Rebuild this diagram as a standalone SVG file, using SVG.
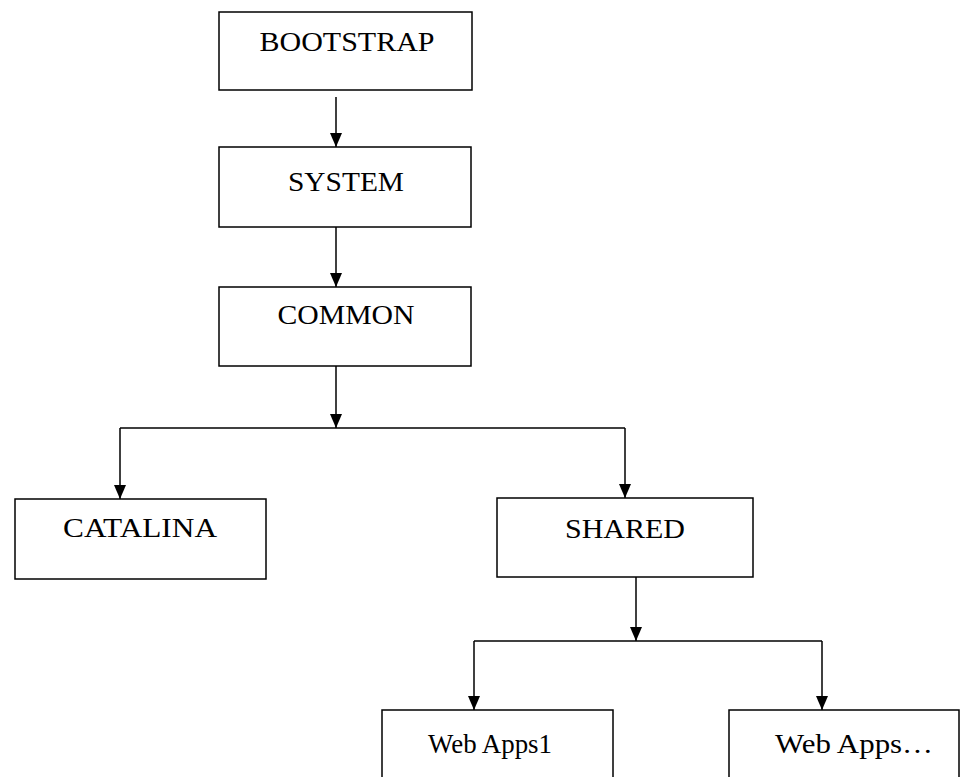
<svg xmlns="http://www.w3.org/2000/svg" width="960" height="777" viewBox="0 0 960 777">
<defs>
<marker id="arr" markerUnits="userSpaceOnUse" markerWidth="14" markerHeight="12" viewBox="0 0 14 12" refX="14" refY="6" orient="auto">
<path d="M0,0 L14,6 L0,12 Z" fill="#000"/>
</marker>
<style>
.box{fill:#fff;stroke:#000;stroke-width:1.5}
.lbl{font-family:"Liberation Serif","Times New Roman",serif;font-size:28px;fill:#000;text-anchor:middle}
.ln{fill:none;stroke:#000;stroke-width:1.5}
.ar{fill:none;stroke:#000;stroke-width:1.5}
</style>
</defs>
<rect width="960" height="777" fill="#fff"/>
<g id="connectors">
<path class="ar" d="M336,97 V147" marker-end="url(#arr)"/>
<path class="ar" d="M336,220 V287" marker-end="url(#arr)"/>
<path class="ar" d="M336,366 V428" marker-end="url(#arr)"/>
<path class="ln" d="M120,428 H625"/>
<path class="ar" d="M120,428 V499" marker-end="url(#arr)"/>
<path class="ar" d="M625,428 V498" marker-end="url(#arr)"/>
<path class="ar" d="M636,577 V641" marker-end="url(#arr)"/>
<path class="ln" d="M474,641 H822"/>
<path class="ar" d="M474,641 V710" marker-end="url(#arr)"/>
<path class="ar" d="M822,641 V710" marker-end="url(#arr)"/>
</g>
<g id="bootstrap">
<rect class="box" x="219" y="12" width="253" height="78"/>
<text class="lbl" x="347" y="51" textLength="175" lengthAdjust="spacingAndGlyphs">BOOTSTRAP</text>
</g>
<g id="system">
<rect class="box" x="219" y="147" width="252" height="80"/>
<text class="lbl" x="346" y="191" textLength="116" lengthAdjust="spacingAndGlyphs">SYSTEM</text>
</g>
<g id="common">
<rect class="box" x="219" y="287" width="252" height="79"/>
<text class="lbl" x="346" y="324" textLength="137" lengthAdjust="spacingAndGlyphs">COMMON</text>
</g>
<g id="catalina">
<rect class="box" x="15" y="499" width="251" height="80"/>
<text class="lbl" x="140" y="537" textLength="154" lengthAdjust="spacingAndGlyphs">CATALINA</text>
</g>
<g id="shared">
<rect class="box" x="497" y="498" width="256" height="79"/>
<text class="lbl" x="625" y="538" textLength="120" lengthAdjust="spacingAndGlyphs">SHARED</text>
</g>
<g id="webapps1">
<rect class="box" x="382" y="710" width="231" height="80"/>
<text class="lbl" x="490" y="753" textLength="124" lengthAdjust="spacingAndGlyphs">Web Apps1</text>
</g>
<g id="webapps2">
<rect class="box" x="729" y="710" width="230" height="80"/>
<text class="lbl" x="854" y="753" textLength="158" lengthAdjust="spacingAndGlyphs">Web Apps…</text>
</g>
</svg>
